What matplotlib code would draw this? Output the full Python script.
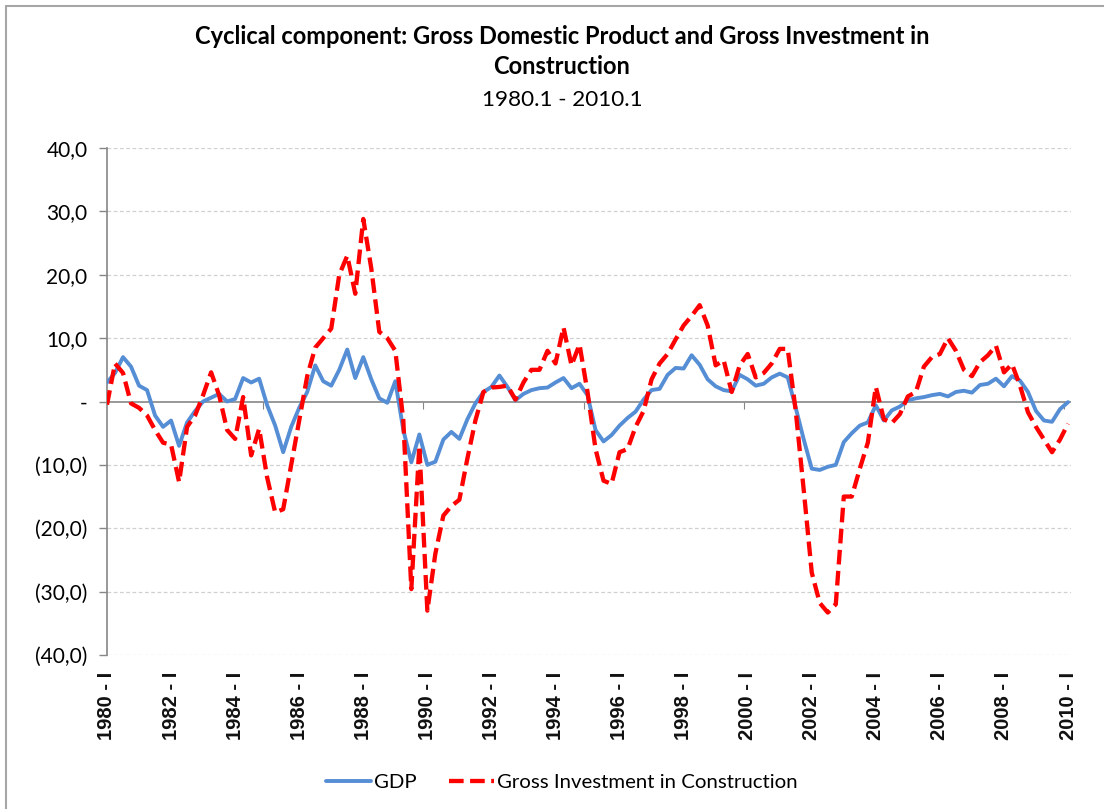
import numpy as np
import matplotlib
matplotlib.use('Agg')
import matplotlib.pyplot as plt
from matplotlib.ticker import FuncFormatter, FixedLocator
from matplotlib.patches import Rectangle

# quarterly cyclical components, 1980.1 .. 2010.1
gdp = [3.0, 4.5, 7.0, 5.5, 2.5, 1.8, -2.2, -4.0, -3.0, -7.0,
       -3.3, -1.5, 0.0, 0.6, 1.2, 0.0, 0.4, 3.7, 3.0, 3.6,
       -0.6, -3.8, -8.0, -4.0, -1.0, 1.5, 5.7, 3.2, 2.5, 5.0,
       8.2, 3.7, 7.0, 3.5, 0.5, -0.2, 3.2, -4.5, -9.6, -5.2,
       -10.0, -9.5, -6.0, -4.8, -5.9, -2.8, -0.3, 1.5, 2.3, 4.1,
       2.3, 0.2, 1.2, 1.8, 2.1, 2.2, 3.0, 3.7, 2.1, 2.8,
       1.0, -4.5, -6.3, -5.3, -3.8, -2.6, -1.6, 0.3, 1.8, 2.0,
       4.2, 5.3, 5.2, 7.3, 5.8, 3.5, 2.4, 1.8, 1.6, 4.2,
       3.5, 2.5, 2.8, 3.8, 4.4, 3.8, -1.0, -6.0, -10.6, -10.8,
       -10.3, -10.0, -6.4, -5.0, -3.8, -3.3, -0.6, -3.0, -1.4, -0.8,
       0.2, 0.5, 0.7, 1.0, 1.2, 0.8, 1.5, 1.7, 1.4, 2.6,
       2.8, 3.6, 2.4, 4.0, 3.3, 1.5, -1.5, -3.0, -3.2, -1.2,
       -0.1]

construction = [-0.5, 6.0, 4.5, -0.3, -1.0, -2.2, -4.5, -6.5, -6.8, -12.7,
                -4.0, -2.2, 1.0, 4.6, 1.0, -4.5, -5.9, 0.7, -8.5, -4.3,
                -12.0, -17.5, -17.0, -10.0, -3.0, 4.0, 8.5, 10.0, 11.5, 20.0,
                23.0, 17.0, 28.8, 21.0, 11.0, 10.0, 8.0, -3.0, -29.6, -7.0,
                -33.0, -24.0, -18.0, -16.5, -15.5, -9.0, -3.0, 1.5, 2.2, 2.3,
                2.5, 0.3, 3.0, 5.0, 5.0, 8.0, 6.0, 11.7, 5.7, 9.0,
                1.5, -7.5, -12.5, -13.0, -8.0, -7.5, -4.0, -1.5, 3.5, 6.0,
                7.5, 9.8, 12.0, 13.5, 15.2, 12.0, 5.7, 6.5, 1.5, 5.7,
                7.5, 3.8, 4.5, 6.0, 8.3, 8.3, -1.5, -14.0, -27.0, -31.8,
                -33.3, -32.0, -15.0, -15.0, -10.6, -6.5, 2.3, -2.8, -3.4, -2.0,
                0.8, 1.5, 5.5, 7.0, 7.5, 10.0, 8.0, 5.0, 4.0, 6.2,
                7.3, 8.8, 4.6, 5.9, 2.5, -1.7, -4.0, -6.0, -8.0, -6.0,
                -3.5]

year_labels = [f"{y} - I" for y in range(1980, 2011, 2)]
y_ticks = [40, 30, 20, 10, 0, -10, -20, -30, -40]

q = np.arange(len(gdp))

fig = plt.figure(figsize=(11.04, 8.09), dpi=100)
fig.patches.append(Rectangle((6 / 1104, -0.1), 1.2, 1 - 6 / 809 + 0.1, transform=fig.transFigure,
                             fill=False, edgecolor='#a6a6a6', linewidth=1.5))

ax = fig.add_axes([107 / 1104, 1 - 655 / 809, (1071 - 107) / 1104, (655 - 148) / 809])

ax.plot(q, gdp, color='#558ED5', linewidth=2.8, solid_joinstyle='round', solid_capstyle='round',
        label='GDP', zorder=3)
ax.plot(q, construction, color='#FF0000', linewidth=3.1, linestyle=(0, (3.4, 1.5)),
        dash_joinstyle='round', label='Gross Investment in Construction', zorder=4)

ax.set_xlim(0, 120.37)
ax.set_ylim(-40, 40)

# y axis
def yfmt(v, pos):
    if abs(v) < 1e-9:
        return '-'
    if v < 0:
        return f"({abs(v):.1f})".replace('.', ',')
    return f"{v:.1f}".replace('.', ',')

ax.yaxis.set_major_locator(FixedLocator(y_ticks))
ax.yaxis.set_major_formatter(FuncFormatter(yfmt))
ax.tick_params(axis='y', direction='out', length=6, width=1, color='#868686', pad=8,
               labelsize=15, labelcolor='#000000')
for lab in ax.get_yticklabels():
    lab.set_family('Lato')
for v in y_ticks:
    if v != 0:
        ax.axhline(v, color='#d0d0d0', linewidth=0.9, linestyle=(0, (3, 2)), zorder=1)
ax.axhline(0, color='#868686', linewidth=1.2, zorder=2)

# x axis: labels at the bottom, tick marks on the zero line
ax.set_xticks(q[::8])
ax.set_xticklabels(year_labels, rotation=90, fontsize=14.5, family='Liberation Sans',
                   fontweight='bold', color='#111111')
ax.tick_params(axis='x', length=0, pad=12)
zero_axis = ax.secondary_xaxis(0.5)
zero_axis.set_xticks(np.arange(19.5, 121, 20))
zero_axis.tick_params(axis='x', direction='out', length=5, color='#868686', labelbottom=False,
                      labeltop=False, bottom=True, top=False)
zero_axis.spines['top'].set_visible(False)
zero_axis.spines['bottom'].set_visible(False)

for s in ['top', 'right', 'bottom']:
    ax.spines[s].set_visible(False)
ax.spines['left'].set_color('#868686')
ax.spines['left'].set_linewidth(1.2)

fig.text(0.509, 1 - 37 / 809, 'Cyclical component: Gross Domestic Product and Gross Investment in',
         ha='center', va='center', fontsize=17, fontweight='bold', family='Lato')
fig.text(0.509, 1 - 67 / 809, 'Construction', ha='center', va='center', fontsize=17,
         fontweight='bold', family='Lato')
fig.text(0.509, 1 - 100 / 809, '1980.1 - 2010.1', ha='center', va='center', fontsize=16.2,
         family='Lato')

leg = fig.legend(loc='center', bbox_to_anchor=(0.509, 1 - 782 / 809), ncol=2, frameon=False,
                 prop={'family': 'Lato', 'size': 14.7}, handlelength=2.2, handletextpad=0.15,
                 columnspacing=1.6)

fig.savefig('out.png', dpi=100)
